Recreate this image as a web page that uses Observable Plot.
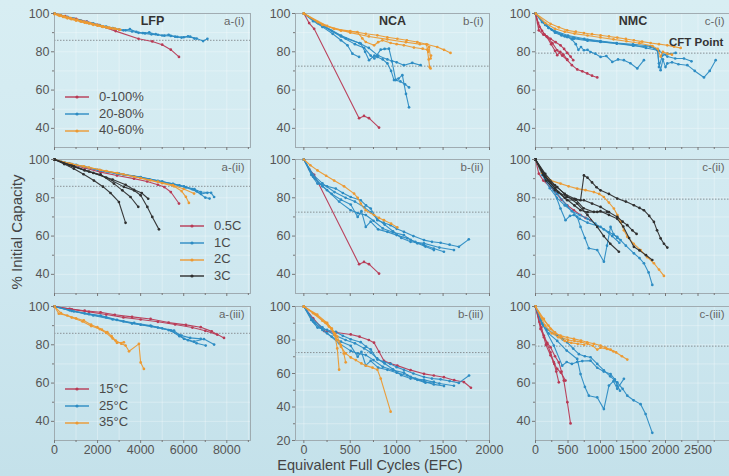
<!DOCTYPE html>
<html><head><meta charset="utf-8">
<script src="https://cdn.jsdelivr.net/npm/d3@7"></script>
<script src="https://cdn.jsdelivr.net/npm/@observablehq/plot@0.6"></script>
<style>
html,body{margin:0;padding:0;}
body{width:729px;height:476px;overflow:hidden;background:linear-gradient(180deg,#d8eef3 0%,#cfe8f0 55%,#c4e1ea 100%);font-family:"Liberation Sans",Arial,sans-serif;}
#wrap{position:relative;width:729px;height:476px;}
.pan{position:absolute;}
.lbl{position:absolute;color:#444;white-space:nowrap;}
.leg{position:absolute;font-size:13px;color:#4a4a4a;}
.leg div{height:16.7px;line-height:16.7px;display:flex;align-items:center;}
.leg svg{margin-right:10px;}
</style></head><body><div id="wrap"></div>
<script>
// ---------- tick labels ----------
const lfpTicks = [0, 2000, 4000, 6000, 8000];
const lfpMinor = [1000, 3000, 5000, 7000, 9000];
const ncaTicks = [0, 500, 1000, 1500, 2000];
const ncaMinor = [250, 750, 1250, 1750];
const nmcTicks = [0, 500, 1000, 1500, 2000, 2500];
const nmcMinor = [250, 750, 1250, 1750, 2250, 2750];
const yTicks = [40, 60, 80, 100];
const yMinor = [30, 50, 70, 90];
const yTicksB3 = [20, 40, 60, 80, 100];
const cftLevels = [86, 72.5, 79.3];

// ---------- series (EFC, % initial capacity) ----------
const lfpSoc = [
  ["red", [[0,100],[500,98.6],[1000,97.2],[1500,95.8],[2000,94.1],[2840,90.8],[3900,86.8],[4540,85.4],[5000,83.7],[5400,81.1],[5780,77.3]]],
  ["blue", [[0,100],[300,99],[600,98.2],[900,97.3],[1200,96.4],[1500,95.6],[1800,94.8],[2100,94],[2400,93.2],[2700,92.4],[3000,91.6],[3300,91.2],[3600,90.6],[3900,89.9],[4200,89.6],[4500,89.1],[4800,88.9],[5100,88.4],[5400,88.3],[5700,87.8],[6000,87.6],[6300,87.9],[6600,86.9],[6900,85.6],[7100,86.8]]],
  ["blue", [[0,100],[400,98.5],[800,97.4],[1200,96.1],[1600,95],[2000,94],[2400,92.8],[2800,92],[3200,91.2],[3500,91.8],[3800,90.4],[4100,89.8],[4400,90.1],[4700,89.2],[5000,88.5],[5300,88.9],[5600,87.9],[5900,87.4],[6200,88.1],[6500,86.9]]],
  ["orange", [[0,100],[150,99.4],[300,99],[450,98.5],[600,98],[750,97.6],[900,97.1],[1050,96.7],[1200,96.2],[1350,95.8],[1500,95.4],[1650,95],[1800,94.5],[1950,94.1],[2100,93.7],[2250,93.3],[2400,92.9],[2550,92.6],[2700,92.2],[2850,91.9],[3000,91.6]]],
  ["orange", [[0,99.6],[200,99],[400,98.2],[600,97.5],[800,97],[1000,96.3],[1200,95.9],[1400,95.2],[1600,94.8],[1800,94.1],[2000,93.8],[2200,93.1],[2400,92.8],[2600,92.3],[2800,92.1],[3050,91.5]]],
  ["orange", [[0,100],[250,98.8],[500,98.1],[750,97.2],[1000,96.6],[1250,95.7],[1500,95.1],[1750,94.5],[2000,93.6],[2250,93],[2500,92.5]]]
];
const lfpRate = [
  ["red", [[0,100],[700,97.5],[1400,95.6],[2140,93.4],[2900,91.6],[3690,90],[4300,88.5],[4800,86.8],[5100,85.6],[5400,83],[5780,77]]],
  ["blue", [[0,100],[700,97.8],[1400,96.2],[2140,94.2],[2900,92.6],[3690,91.2],[4400,89.6],[5000,88.4],[5500,87.3],[6010,86],[6500,84.5],[6790,83],[7270,82.6],[7410,80.4]]],
  ["blue", [[0,100],[800,97.6],[1600,95.6],[2400,93.8],[3200,92.1],[4000,90.7],[4800,88.9],[5500,87.1],[6100,85.4],[6600,83.4],[7000,80.1],[7200,79.6]]],
  ["blue", [[0,100],[1000,97.2],[2000,94.6],[3000,92.6],[4000,90.8],[5000,88.5],[5800,86.5],[6400,84.5],[6800,82],[7100,82.6]]],
  ["orange", [[0,100],[700,97.9],[1360,96.4],[2100,94.6],[2910,92.9],[3700,91],[4460,89.1],[5000,87.6],[5550,86],[5900,83.5],[6100,80.5],[6240,77.3]]],
  ["orange", [[0,100],[800,97.6],[1600,95.8],[2400,94],[3200,92.3],[4000,90.3],[4800,88.4],[5500,86.6],[6000,84.6],[6480,82.2]]],
  ["black", [[0,100],[450,97.6],[900,95.2],[1350,92.3],[1830,89],[2250,85.8],[2600,82.5],[2990,77.8],[3300,66.9]]],
  ["black", [[0,100],[700,97],[1400,94.3],[2140,92.2],[2760,87.4],[3150,83.9],[3530,80.4],[3890,75.3]]],
  ["black", [[0,100],[800,96.8],[1600,93.7],[2400,90.6],[3220,85.7],[3700,83.8],[4000,81.3],[4310,75.2],[4540,70],[4850,63.5]]],
  ["black", [[0,100],[900,96.4],[1800,93],[2700,89.5],[3300,86.8],[3690,84.2],[4050,82.5],[4350,79.5]]]
];
const lfpTemp = [
  ["red", [[0,100],[700,98.8],[1400,97.8],[2140,97],[2800,95.7],[3600,94.6],[4460,93.5],[5300,91.6],[6100,90.4],[6790,89.2],[7300,87],[7870,83.6]]],
  ["red", [[0,100],[800,98.5],[1600,97.2],[2400,95.8],[3200,94.3],[4000,93.2],[4800,92],[5600,90.6],[6400,89],[7000,87.3],[7560,85.3]]],
  ["blue", [[0,100],[700,98],[1400,96.4],[2140,95.3],[2900,93],[3700,91.4],[4460,90],[5000,88.6],[5550,87.4],[5800,85],[6010,83.1],[6480,81.7],[6940,83],[7410,80.1]]],
  ["blue", [[0,100],[800,97.7],[1600,96],[2400,94.3],[3200,92.2],[4000,90.5],[4800,89],[5400,87.5],[5800,84.5],[6200,82.4],[6600,80.8],[7020,79.6]]],
  ["blue", [[0,100],[900,97.4],[1800,95.3],[2700,93.2],[3600,91.1],[4500,89.6],[5300,87.7],[5900,84.8],[6300,83.6],[6790,83.1]]],
  ["orange", [[0,100],[200,96.2],[590,95.3],[1000,93.8],[1360,92.7],[1700,90.5],[1990,89.2],[2200,87.9],[2450,86.6],[2650,84.5],[2840,82.2],[3100,80.6],[3300,79.6],[3460,76.6],[3920,80.5],[4000,70.8],[4150,67.4]]],
  ["orange", [[0,100],[300,96.5],[800,94.2],[1300,92.2],[1700,89.8],[2100,88.2],[2400,86.2],[2700,83.3],[2900,81],[3220,81.3]]]
];
const ncaSoc = [
  ["red", [[0,100],[57,95],[111,92],[595,45.3],[648,46.5],[702,45.3],[810,40.4]]],
  ["blue", [[0,100],[100,96],[200,93],[310,89.4],[400,86],[470,83.4],[523,79],[595,77.3]]],
  ["blue", [[0,100],[150,95],[300,91],[450,87],[613,84.3],[660,80],[702,75.6],[760,78],[792,77.3],[850,76],[900,73.9],[940,70],[971,65.2],[1020,66],[1061,67.8],[1100,58],[1133,51]]],
  ["blue", [[0,100],[200,93.5],[400,88],[550,84],[650,82],[720,78],[760,76.5],[828,81.1],[870,81.5],[917,81.6],[950,75],[989,65.2],[1040,64.5],[1090,63],[1133,61.4]]],
  ["blue", [[0,100],[200,94],[400,88.5],[600,84.5],[700,82],[800,78],[900,76],[1000,74.5],[1078,73],[1168,74.2],[1258,73]]],
  ["orange", [[0,100],[150,95.5],[326,92],[500,90.8],[667,89.4],[792,88.6],[900,87.6],[1007,86.8],[1110,86],[1222,85.1],[1330,83.8],[1437,82.5],[1510,81],[1580,79.4]]],
  ["orange", [[0,100],[200,94],[400,91],[577,90.3],[630,87],[667,85.1],[757,83.4],[800,85],[846,86],[935,84.6],[1000,84],[1078,83.4],[1186,82.2],[1280,81.6],[1330,81.1],[1345,76],[1355,72],[1365,71.3]]],
  ["orange", [[0,100],[250,93.5],[500,90],[700,88],[900,86.5],[1100,85],[1250,84],[1320,83.9],[1340,80],[1350,82.5],[1365,76.5],[1370,78]]]
];
const ncaRate = [
  ["red", [[0,100],[57,95],[111,92],[595,45.3],[648,46.5],[702,45.3],[810,40.4]]],
  ["blue", [[0,100],[80,92],[147,87.4],[250,86],[344,84.8],[420,82.5],[505,80.4],[613,78.7],[670,76],[720,74.4],[792,68.3],[860,67],[935,65.7],[1000,63.8],[1078,62.2],[1180,60],[1294,57.9],[1380,57],[1473,56.5],[1570,55.5],[1670,54.4],[1777,58.3]]],
  ["blue", [[0,100],[100,91],[200,86],[300,82],[400,79],[505,76.5],[580,70],[620,73],[667,64.8],[720,67.5],[800,63.5],[900,62.2],[1000,60.5],[1115,58.8],[1200,57],[1294,55.3],[1400,53.5],[1509,51.8]]],
  ["blue", [[0,100],[120,90],[250,84],[380,78],[505,73.5],[580,72],[667,71],[750,68],[850,64],[960,62],[1078,60.5],[1150,58],[1222,56.2],[1310,54.5],[1401,52.7]]],
  ["blue", [[0,100],[100,92],[200,87.5],[330,83],[450,80],[550,78],[650,75],[720,72.5],[790,69],[870,66],[960,62.5],[1050,59],[1150,57],[1294,56.2],[1460,54],[1617,52.7]]],
  ["orange", [[0,100],[70,97],[147,94.3],[240,91.5],[326,89],[433,86],[541,82.2],[580,80],[613,77],[667,73.5],[756,71],[810,69.5],[863,68.3],[940,66.5],[1007,64.5]]]
];
const ncaTemp = [
  ["red", [[0,100],[100,93],[219,85.3],[350,84.5],[505,83.3],[600,82],[700,80],[756,78.4],[810,73],[863,67.6],[930,66],[1007,64.7],[1150,62],[1294,59.8],[1400,58.8],[1509,57.8],[1620,56],[1724,54.9],[1800,51.5]]],
  ["blue", [[0,100],[80,92],[147,87.4],[250,86],[344,84.8],[420,82.5],[505,80.4],[613,78.7],[670,76],[720,74.4],[792,68.3],[860,67],[935,65.7],[1000,63.8],[1078,62.2],[1180,60],[1294,57.9],[1380,57],[1473,56.5],[1570,55.5],[1670,54.4],[1780,58.8]]],
  ["blue", [[0,100],[100,91],[200,86],[300,82],[400,79],[505,76.5],[580,70],[620,73],[667,64.8],[720,67.5],[800,63.5],[900,62.2],[1000,60.5],[1115,58.8],[1200,57],[1294,55.3],[1400,53.5],[1510,52.5]]],
  ["blue", [[0,100],[120,90],[250,84],[380,78],[505,73.5],[580,72],[667,71],[750,68],[850,64],[960,62],[1078,60.5],[1150,58],[1222,56.2],[1310,54.5],[1401,55]]],
  ["blue", [[0,100],[100,92],[200,87.5],[330,83],[450,80],[550,78],[650,75],[720,72.5],[790,69],[870,66],[960,62.5],[1050,59],[1150,57],[1294,56.2],[1460,54],[1617,52.7]]],
  ["orange", [[0,100],[144,95.1],[251,90.2],[300,86.5],[330,83],[360,80],[400,76],[450,72],[505,69.6],[560,68],[620,66],[667,64.7],[740,63.5],[792,62.3],[828,57],[935,37.2]]],
  ["orange", [[0,100],[100,96],[200,91.5],[270,88],[330,84],[360,75],[380,62.3]]],
  ["orange", [[0,100],[120,95.5],[230,90.5],[300,87],[360,82],[400,77],[430,72],[451,66.7]]]
];
const nmcSoc = [
  ["red", [[0,100],[51,91.2],[120,89],[180,87.7],[260,84.5],[334,80.8],[410,78],[488,75.7],[560,73],[642,70.8],[720,69.8],[796,68.7],[870,67.5],[950,66.6]]],
  ["red", [[0,100],[60,93],[140,89],[231,86.8],[310,85],[385,83.4],[440,81.5],[488,79.4],[540,77.5],[580,75.6]]],
  ["red", [[0,100],[40,95],[100,91],[170,88],[240,84],[300,80.5],[334,78.2],[380,80],[430,78.5],[488,76]]],
  ["blue", [[0,100],[100,95.5],[200,92.5],[300,90],[400,88.5],[488,87.7],[560,86.5],[620,84],[660,81],[700,82.5],[745,80.8],[800,81],[847,79.9],[920,79],[1001,77.3],[1090,77.8],[1181,74.7],[1270,76],[1360,75.6],[1460,74],[1566,71.3],[1668,75.6]]],
  ["blue", [[0,100],[150,94],[300,90.5],[450,88],[590,86.8],[800,85.8],[1001,85.1],[1250,84.3],[1514,83.4],[1700,82],[1874,80.8],[1900,74],[1925,70.4],[1960,76],[2000,72],[2028,73.9],[2100,74.5],[2200,73.5],[2336,73],[2450,70],[2592,66.6],[2680,70],[2772,75.6]]],
  ["blue", [[0,100],[200,92.5],[400,89],[600,87.2],[800,86.2],[1000,85.3],[1250,84.3],[1500,83.2],[1771,82.5],[1880,81],[1900,72],[1950,78],[2028,79],[2156,79.4]]],
  ["blue", [[0,100],[250,91.5],[500,88.5],[750,86.8],[1000,85.6],[1250,84.6],[1500,83.9],[1771,83],[1900,80.5],[2028,77.5],[2150,76.5],[2284,76.5],[2400,75]]],
  ["orange", [[0,100],[231,94.6],[360,92.8],[488,91.2],[620,90.5],[745,89.8],[870,89.2],[1001,88.6],[1130,88],[1258,87.4],[1390,86.7],[1514,86],[1640,85.3],[1771,84.6],[1900,84],[2028,83.4],[2130,82.7],[2233,82]]],
  ["orange", [[0,100],[150,95],[300,92],[450,90.5],[600,89.5],[800,88.5],[1000,87.5],[1200,86.5],[1400,85.5],[1600,84.5],[1800,83],[1880,81.5],[1925,77.5],[1960,80],[2028,79],[2100,78.5]]]
];
const nmcRate = [
  ["red", [[0,100],[51,92.6],[120,89],[231,85.6],[330,82],[400,79],[488,76.1],[590,73.5],[693,71],[770,69.5],[847,68.3]]],
  ["blue", [[0,100],[150,90],[282,83.9],[385,74.4],[462,68.3],[530,70.5],[590,71],[680,69],[800,67],[1001,64.8],[1130,62],[1258,59.6],[1390,55],[1514,51],[1600,48.5],[1668,45.8],[1740,41],[1797,34.5]]],
  ["blue", [[0,100],[150,91],[334,82.2],[480,76],[642,70],[693,64.8],[760,59],[821,53.6],[950,52.7],[1052,46.6],[1100,55],[1155,64.8],[1200,61],[1258,59],[1309,57.9]]],
  ["blue", [[0,100],[100,92],[220,85],[330,80],[450,76],[560,73],[680,71],[800,69],[920,66.5],[1050,63.5],[1180,60],[1290,56.5]]],
  ["orange", [[0,100],[100,93],[231,89.1],[385,87.4],[510,86],[642,84.8],[770,84],[898,83],[980,82],[1052,80.4],[1130,77.5],[1206,74.4],[1260,71],[1309,67.4],[1360,63],[1412,59.6],[1510,56],[1617,52.7],[1720,49],[1822,45.8],[1900,42.5],[1976,39.2]]],
  ["black", [[0,100],[150,92.5],[300,86.5],[450,82],[600,79.5],[693,78.7],[745,91.7],[800,90.5],[870,88],[940,85.5],[1001,83.9],[1130,82],[1258,79.6],[1390,78],[1514,76.1],[1600,74.7],[1668,73.5],[1750,70.5],[1822,67.4],[1870,63],[1925,58.8],[1976,56],[2028,54]]],
  ["black", [[0,100],[150,91],[300,85],[488,78.7],[620,79],[745,78.7],[870,77],[1001,75.2],[1130,72.5],[1258,70],[1340,67.5],[1412,65.7],[1490,63],[1555,61.1]]],
  ["black", [[0,100],[200,89],[350,83],[488,80.4],[620,79],[740,74.5],[898,72.6],[1000,73],[1130,71],[1258,69],[1350,65],[1440,59],[1514,54.4],[1600,52.5],[1700,50],[1797,47.5]]],
  ["black", [[0,100],[120,92],[230,88],[334,85.6],[480,81],[642,77],[800,71],[950,64.8],[1050,60],[1150,56],[1283,51.8]]],
  ["black", [[0,100],[160,89],[300,84],[450,80],[600,76],[693,73.5],[800,72.5],[950,72.6],[1104,72.6]]]
];
const nmcTemp = [
  ["red", [[0,100],[60,92],[128,84.8],[180,81],[231,78.7],[300,74],[359,70.8],[400,66],[436,61.3],[490,50],[539,38.9]]],
  ["red", [[0,100],[77,88.3],[130,84],[180,80.5],[230,76],[280,71],[320,66],[359,60.4]]],
  ["red", [[0,100],[90,89],[160,80],[231,74.5],[290,70],[334,67.4],[390,65.5],[462,61.3]]],
  ["blue", [[0,100],[77,93],[180,88],[334,84.8],[420,82.8],[488,81.3],[580,78],[668,75.1],[760,74],[847,73.5],[950,70],[1052,66.6],[1150,63.5],[1258,60.4],[1340,57],[1412,53.4],[1510,51],[1617,49],[1694,43.8],[1797,34]]],
  ["blue", [[0,100],[100,91],[200,86],[334,82],[480,77],[642,72.6],[693,64.7],[760,58],[821,53.4],[950,52.5],[1052,46.4],[1130,58.7],[1200,61],[1258,57],[1360,62.2]]],
  ["blue", [[0,100],[120,90],[282,79.6],[411,69.1],[480,71],[560,70],[640,71],[720,71.5],[847,71.7],[950,68],[1050,66],[1155,64.7],[1220,62],[1258,58.7],[1300,56]]],
  ["orange", [[0,100],[128,93.5],[231,88.3],[300,86],[385,84.8],[490,83.8],[590,83.1],[700,82.2],[796,81.3],[900,80.5],[1001,79.6],[1080,78.5],[1155,77.5],[1240,76],[1330,74],[1412,72.3]]],
  ["orange", [[0,100],[100,94],[200,90],[300,86.5],[400,84],[500,82.5],[600,82],[700,81.5],[800,80.5],[880,79.5],[950,77.5],[1000,78.5],[1100,77.8],[1200,76.5]]],
  ["orange", [[0,100],[150,90],[250,86],[350,84],[450,82],[550,81],[650,80.5],[750,80]]]
];

const socLegend = ["0-100%", "20-80%", "40-60%"];
const rateLegend = ["0.5C", "1C", "2C", "3C"];
const tempLegend = ["15°C", "25°C", "35°C"];
const chemistries = ["LFP", "NCA", "NMC"];
const tags = [["a-(i)","a-(ii)","a-(iii)"],["b-(i)","b-(ii)","b-(iii)"],["c-(i)","c-(ii)","c-(iii)"]];

// ---------- layout ----------
const palette = {red:"#b83a55", blue:"#2d8cc3", orange:"#ec9a33", black:"#2f2f2f"};
const drawOrder = ["red","blue","orange","black"];
const cols = [
  {left:0,   ml:54, mr:2, w:252, domain:[0,9100], ticks:lfpTicks, minor:lfpMinor},
  {left:255, ml:40, mr:2, w:236, domain:[-90,2000], ticks:ncaTicks, minor:ncaMinor},
  {left:495, ml:40, mr:5, w:240, domain:[0,3000], ticks:nmcTicks, minor:nmcMinor}
];
const rowsL = [
  {top:0,   mt:13, ph:134, mb:6},
  {top:146, mt:13, ph:134, mb:6},
  {top:293, mt:13, ph:134, mb:30}
];
const panels = [
  [lfpSoc, lfpRate, lfpTemp],
  [ncaSoc, ncaRate, ncaTemp],
  [nmcSoc, nmcRate, nmcTemp]
];

const wrap = document.getElementById("wrap");
const px = (d) => d[0], py = (d) => d[1];
const plain = (d) => String(d);

for (let c = 0; c < 3; c++) {
  for (let r = 0; r < 3; r++) {
    const C = cols[c], R = rowsL[r];
    const isB3 = (c === 1 && r === 2);
    const yDomain = isB3 ? [20, 100] : [30, 100];
    const yt = isB3 ? yTicksB3 : yTicks;
    const ym = isB3 ? [30, 50, 70, 90] : [50, 70, 90];
    const series = panels[c][r].slice().sort((a, b) => drawOrder.indexOf(a[0]) - drawOrder.indexOf(b[0]));
    const marks = [
      Plot.gridX(C.ticks.concat(C.minor).filter(v => v > C.domain[0] && v < C.domain[1]), {stroke:"#ffffff", strokeOpacity:0.45, strokeWidth:0.7}),
      Plot.gridY(yt.concat(ym), {stroke:"#ffffff", strokeOpacity:0.45, strokeWidth:0.7}),
      Plot.ruleY([cftLevels[c]], {stroke:"#8a9296", strokeWidth:1, strokeDasharray:"1.5,1.5"}),
      Plot.frame({stroke:"#9aa5aa", strokeWidth:0.9})
    ];
    for (const [g, pts] of series) {
      marks.push(Plot.line(pts, {x:px, y:py, stroke:palette[g], strokeWidth:1.1, strokeOpacity:0.95}));
      marks.push(Plot.dot(pts, {x:px, y:py, r:1.35, fill:palette[g], stroke:null}));
    }
    marks.push(Plot.axisY(yt, {tickSize:3, tickPadding:2, tickFormat:plain, fill:"#555", stroke:"#777", label:null}));
    marks.push(Plot.axisY(ym, {tickSize:2, tickFormat:() => "", stroke:"#777", label:null}));
    if (r === 2) {
      marks.push(Plot.axisX(C.ticks, {tickSize:3, tickPadding:2, tickFormat:plain, fill:"#555", stroke:"#777", label:null}));
    } else {
      marks.push(Plot.axisX(C.ticks, {tickSize:3, tickFormat:() => "", stroke:"#777", label:null}));
    }
    marks.push(Plot.axisX(C.minor.filter(v => v <= C.domain[1]), {tickSize:2, tickFormat:() => "", stroke:"#777", label:null}));
    if (r === 0) {
      marks.push(Plot.text([chemistries[c]], {text:d => d, frameAnchor:"top", dy:3, fontWeight:"bold", fontSize:12.5, fill:"#333"}));
    }
    marks.push(Plot.text([tags[c][r]], {text:d => d, frameAnchor:"top-right", dx:-6, dy:3, fontSize:11.5, fill:"#666"}));

    const svg = Plot.plot({
      width: C.w,
      height: R.mt + R.ph + R.mb,
      marginLeft: C.ml, marginRight: C.mr, marginTop: R.mt, marginBottom: R.mb,
      x: {domain: C.domain, label: null},
      y: {domain: yDomain, label: null},
      style: {background:"transparent", fontSize:"12.5px", fontFamily:"'Liberation Sans', Arial, sans-serif", overflow:"visible"},
      marks
    });
    svg.classList.add("pan");
    svg.style.position = "absolute";
    svg.style.left = C.left + "px";
    svg.style.top = R.top + "px";
    wrap.appendChild(svg);
  }
}

// ---------- legends ----------
function legend(items, colorsArr, left, top) {
  const box = document.createElement("div");
  box.className = "leg";
  box.style.left = left + "px";
  box.style.top = top + "px";
  items.forEach((t, i) => {
    const row = document.createElement("div");
    const col = palette[colorsArr[i]];
    row.innerHTML = `<svg width="24" height="6"><line x1="0" y1="3" x2="24" y2="3" stroke="${col}" stroke-width="1.4"/><circle cx="12" cy="3" r="1.6" fill="${col}"/></svg><span>${t}</span>`;
    box.appendChild(row);
  });
  wrap.appendChild(box);
}
legend(socLegend, ["red","blue","orange"], 65, 89);
legend(rateLegend, ["red","blue","orange","black"], 180, 218);
legend(tempLegend, ["red","blue","orange"], 65, 381);

// ---------- labels ----------
const cft = document.createElement("div");
cft.className = "lbl";
cft.style.cssText = "left:669px;top:36px;font-size:11.5px;font-weight:bold;color:#333;";
cft.textContent = "CFT Point";
wrap.appendChild(cft);

const yl = document.createElement("div");
yl.className = "lbl";
yl.style.cssText = "left:16px;top:232px;font-size:15px;transform:translate(-50%,-50%) rotate(-90deg);";
yl.textContent = "% Initial Capacity";
wrap.appendChild(yl);

const xl = document.createElement("div");
xl.className = "lbl";
xl.style.cssText = "left:370px;top:465px;font-size:14.5px;transform:translate(-50%,-50%);";
xl.textContent = "Equivalent Full Cycles (EFC)";
wrap.appendChild(xl);
</script></body></html>
